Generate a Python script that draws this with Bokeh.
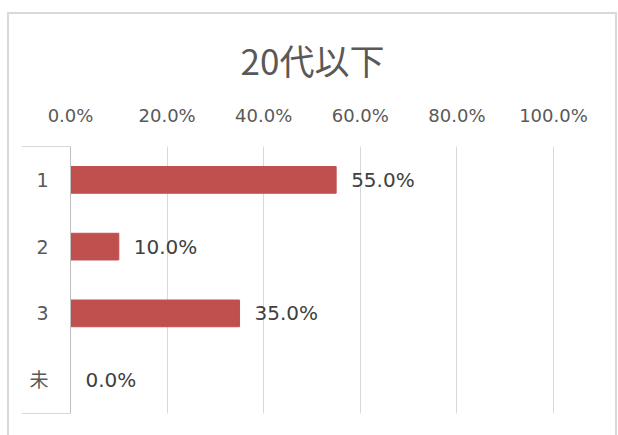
from bokeh.plotting import figure
from bokeh.models import Range1d, FixedTicker, NumeralTickFormatter, ColumnDataSource, Title
from bokeh.core.properties import value
from bokeh.embed import file_html
from bokeh.resources import INLINE

title_text = "20代以下"
categories = ["1", "2", "3", "未"]
values = [0.55, 0.10, 0.35, 0.0]
labels = ["55.0%", "10.0%", "35.0%", "0.0%"]
x_ticks = [0.0, 0.2, 0.4, 0.6, 0.8, 1.0]

positions = [i + 0.5 for i in range(len(categories))]

src = ColumnDataSource(dict(y=positions, v=values, lab=labels))

p = figure(width=610, height=423, output_backend="svg", toolbar_location=None,
           x_range=Range1d(0, 1.0021), y_range=Range1d(len(categories), 0),
           x_axis_location="above", min_border_left=61, min_border_right=65,
           min_border_top=132, min_border_bottom=24)
p.styles = {"border-top": "2px solid #D9D9D9", "border-left": "2px solid #D9D9D9",
            "border-right": "2px solid #D9D9D9", "margin-top": "12px",
            "margin-left": "7px"}
p.outline_line_color = None
p.background_fill_color = "white"
p.border_fill_color = "white"

t = Title(text=title_text, align="center", text_font="Noto Sans CJK JP",
          text_font_size="35px", text_color="#595959", text_font_style="normal",
          standoff=33)
p.add_layout(t, "above")

p.hbar(y="y", right="v", left=0, height=0.4, source=src, fill_color="#C0504D",
       line_color="#C0504D")
p.text(x="v", y="y", text="lab", source=src, x_offset=15, text_baseline="middle",
       text_align="left", text_font=value("DejaVu Sans"), text_font_size="20px",
       text_color="#404040")

xa = p.xaxis[0]
xa.ticker = FixedTicker(ticks=x_ticks)
xa.formatter = NumeralTickFormatter(format="0.0%")
xa.axis_line_color = None
xa.major_tick_line_color = None
xa.minor_tick_line_color = None
xa.major_label_text_font = "DejaVu Sans"
xa.major_label_text_font_size = "18px"
xa.major_label_text_color = "#595959"
xa.major_label_standoff = 15

ya = p.yaxis[0]
ya.ticker = FixedTicker(ticks=positions, minor_ticks=[0, len(categories)])
ya.major_label_overrides = {pos: c for pos, c in zip(positions, categories)}
ya.axis_line_color = "#BFBFBF"
ya.major_tick_line_color = None
ya.minor_tick_line_color = "#D9D9D9"
ya.minor_tick_out = 49
ya.minor_tick_in = 0
ya.major_label_text_font = "DejaVu Sans, Noto Sans CJK JP"
ya.major_label_text_font_size = "19px"
ya.major_label_text_color = "#595959"
ya.major_label_standoff = -27

p.xgrid.ticker = FixedTicker(ticks=x_ticks[1:])
p.xgrid.grid_line_color = "#D9D9D9"
p.ygrid.grid_line_color = None

open("out.html", "w").write(file_html(p, INLINE))
